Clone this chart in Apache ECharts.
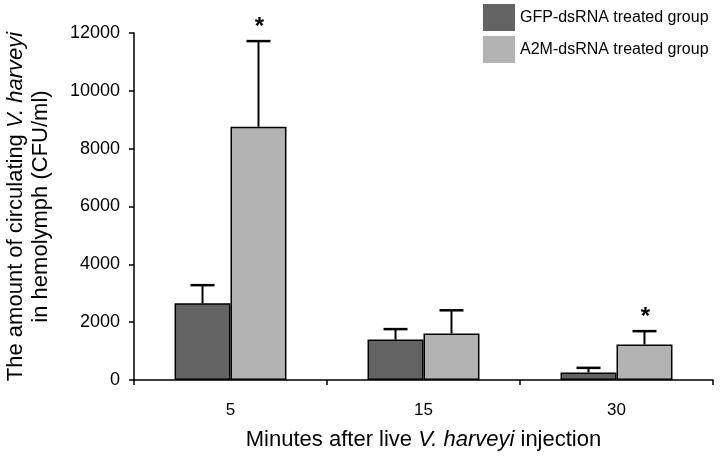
<!DOCTYPE html>
<html><head><meta charset="utf-8">
<script src="https://cdn.jsdelivr.net/npm/echarts@6/dist/echarts.min.js"></script>
<style>html,body{margin:0;padding:0;background:#fff}#c{width:722px;height:462px}</style>
</head><body><div id="c"></div>
<script>
var categories = ['5', '15', '30'];
var gfpMean = [2650, 1400, 260];
var gfpErr = [630, 360, 160];
var a2mMean = [8760, 1610, 1230];
var a2mErr = [2960, 800, 460];
var a2mSig = [true, false, true];
var seriesNames = ['GFP-dsRNA treated group', 'A2M-dsRNA treated group'];
var yTicks = [0, 2000, 4000, 6000, 8000, 10000, 12000];

var BAR_FRAC = 0.29;
var FONT = 'Liberation Sans, Arial, sans-serif';

function errSeries(means, errs, side, sig) {
  return {
    type: 'custom',
    silent: true,
    z: 5,
    data: means.map(function (m, i) { return [i, m, m + errs[i], sig ? (sig[i] ? 1 : 0) : 0]; }),
    renderItem: function (params, api) {
      var band = api.size([1, 0])[0];
      var base = api.coord([api.value(0), api.value(1)]);
      var top = api.coord([api.value(0), api.value(2)]);
      var x = base[0] + side * band * BAR_FRAC / 2;
      var cap = 12;
      var children = [
        { type: 'line', shape: { x1: x, y1: base[1], x2: x, y2: top[1] }, style: { stroke: '#000', lineWidth: 2 } },
        { type: 'line', shape: { x1: x - cap, y1: top[1], x2: x + cap, y2: top[1] }, style: { stroke: '#000', lineWidth: 2.5 } }
      ];
      if (api.value(3) === 1) {
        children.push({ type: 'text', style: { x: x + 1, y: top[1] - 14, text: '*', fill: '#000', font: 'bold 24px ' + FONT, textAlign: 'center', textVerticalAlign: 'middle' } });
      }
      return { type: 'group', children: children };
    }
  };
}

var chart = echarts.init(document.getElementById('c'));
chart.setOption({
  animation: false,
  backgroundColor: '#fff',
  grid: { left: 134, right: 9, top: 33, bottom: 82, containLabel: false, outerBoundsMode: 'none' },
  legend: {
    orient: 'vertical', left: 478, top: 4, padding: [0, 5, 0, 5],
    itemWidth: 32, itemHeight: 27, itemGap: 5,
    icon: 'rect',
    textStyle: { fontFamily: FONT, fontSize: 16, color: '#000', padding: [0, 0, 0, 0] },
    itemStyle: { borderWidth: 0 },
    data: seriesNames
  },
  xAxis: {
    type: 'category', data: categories,
    axisLine: { lineStyle: { color: '#000', width: 1.5 } },
    axisTick: { show: true, length: 5, lineStyle: { color: '#000', width: 1.5 } },
    axisLabel: { color: '#000', fontFamily: FONT, fontSize: 17, margin: 22 },
    name: '{n|Minutes after live }{i|V. harveyi}{n| injection}',
    nameLocation: 'middle', nameGap: 49,
    nameTextStyle: {
      rich: {
        n: { fontFamily: FONT, fontSize: 22, color: '#000' },
        i: { fontFamily: FONT, fontSize: 22, color: '#000', fontStyle: 'italic' }
      }
    }
  },
  yAxis: {
    type: 'value', min: 0, max: 12000, interval: 2000,
    splitLine: { show: false },
    axisLine: { show: true, lineStyle: { color: '#000', width: 1.5 } },
    axisTick: { show: true, length: 5, lineStyle: { color: '#000', width: 1.5 } },
    axisLabel: { color: '#000', fontFamily: FONT, fontSize: 18, margin: 14,
      formatter: function (v) { return yTicks.indexOf(v) >= 0 ? String(v) : ''; } },
    name: '{n|The amount of circulating }{i|V. harveyi}\n{n|in hemolymph (CFU/ml)}',
    nameLocation: 'middle', nameGap: 81, nameRotate: 90,
    nameTextStyle: {
      lineHeight: 25,
      rich: {
        n: { fontFamily: FONT, fontSize: 22, color: '#000', lineHeight: 25 },
        i: { fontFamily: FONT, fontSize: 22, color: '#000', fontStyle: 'italic', lineHeight: 25 }
      }
    }
  },
  series: [
    { name: seriesNames[0], type: 'bar', data: gfpMean, barWidth: (BAR_FRAC * 100) + '%', barGap: '0%',
      itemStyle: { color: '#636363', borderColor: '#000', borderWidth: 1.5 } },
    { name: seriesNames[1], type: 'bar', data: a2mMean, barWidth: (BAR_FRAC * 100) + '%', barGap: '0%',
      itemStyle: { color: '#b3b3b3', borderColor: '#000', borderWidth: 1.5 } },
    errSeries(gfpMean, gfpErr, -1, null),
    errSeries(a2mMean, a2mErr, 1, a2mSig)
  ]
});
</script></body></html>
